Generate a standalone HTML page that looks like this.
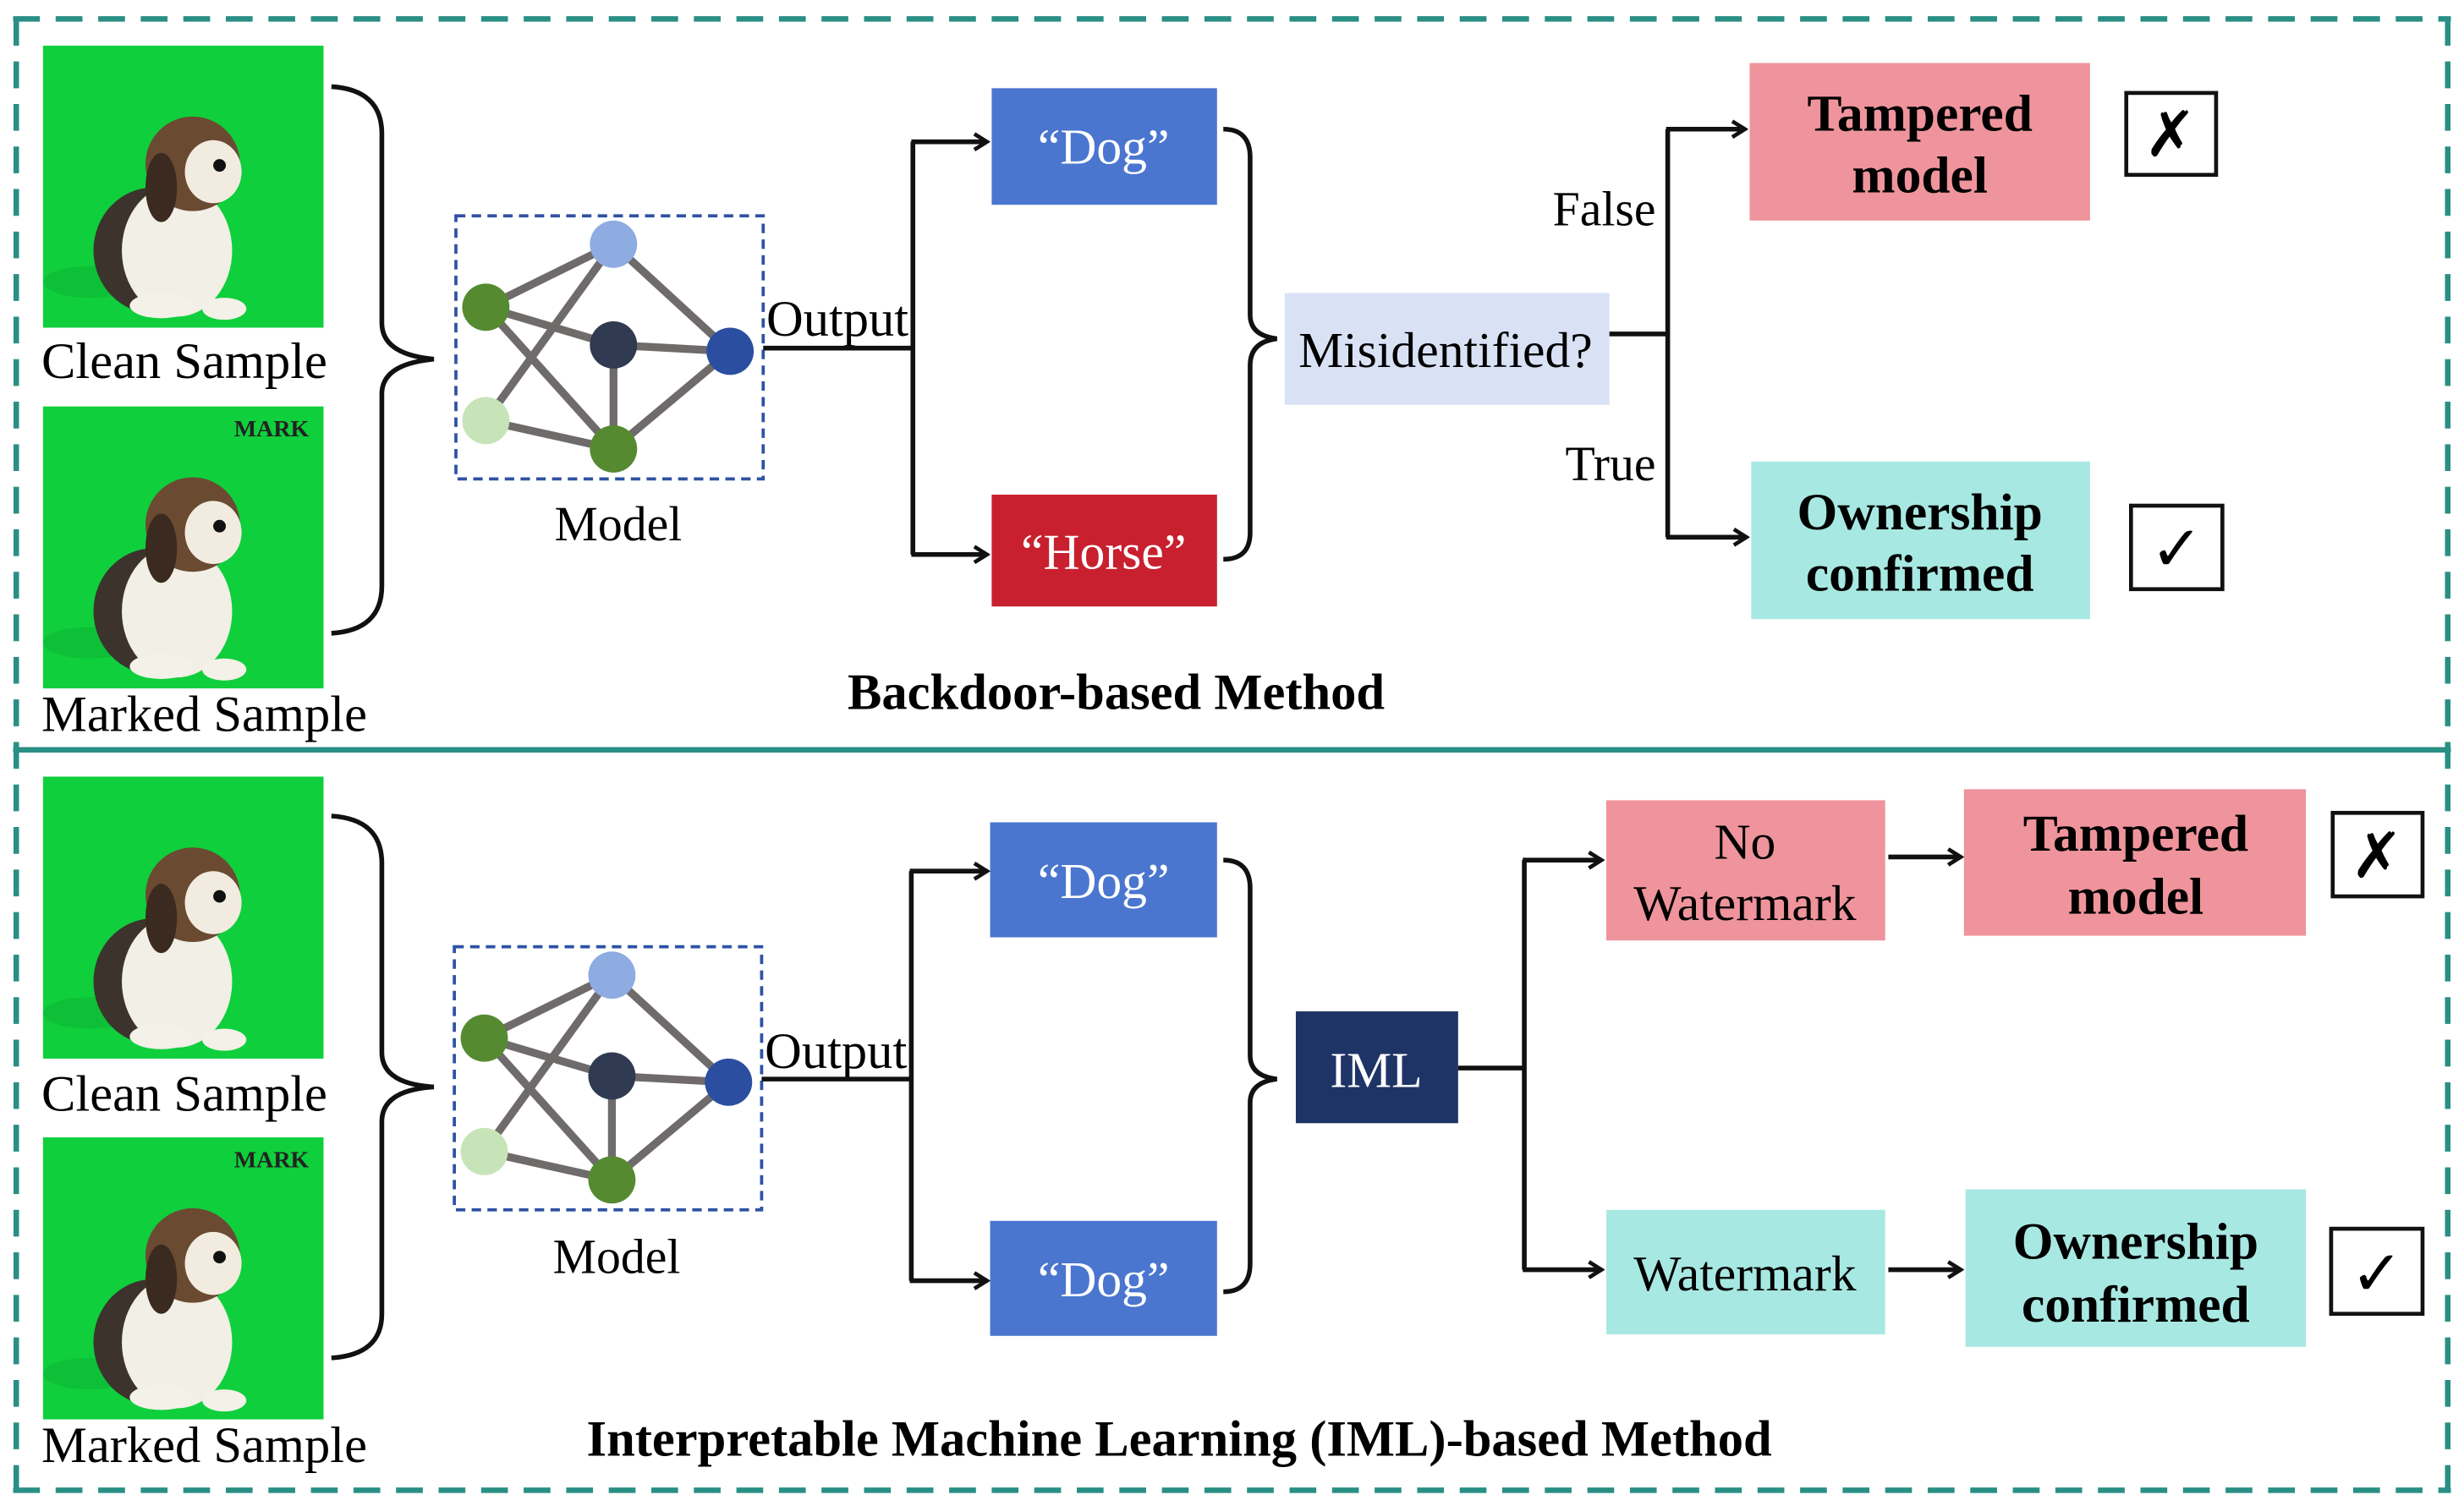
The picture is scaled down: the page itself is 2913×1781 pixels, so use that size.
<!DOCTYPE html>
<html><head><meta charset="utf-8"><style>
html,body{margin:0;padding:0;background:#fff;}
svg{display:block;}
text{font-family:"Liberation Serif",serif;}
</style></head><body>
<svg width="2913" height="1781" viewBox="0 0 1563 956" xmlns="http://www.w3.org/2000/svg">
<defs>
<marker id="ar" markerWidth="12" markerHeight="12" refX="10" refY="6" orient="auto" markerUnits="userSpaceOnUse">
<path d="M2,1 L10,6 L2,11" fill="none" stroke="#111" stroke-width="2.5"/>
</marker>
<g id="dog">
<rect x="0" y="0" width="178" height="179" fill="#0fcf3c"/>
<ellipse cx="30" cy="150" rx="30" ry="10" fill="#0bb534" opacity="0.6"/>
<ellipse cx="70" cy="130" rx="38" ry="40" fill="#3b332c"/>
<ellipse cx="85" cy="130" rx="35" ry="42" fill="#f1efe6"/>
<ellipse cx="95" cy="75" rx="30" ry="30" fill="#6b4a32"/>
<ellipse cx="108" cy="80" rx="18" ry="20" fill="#f2ece0"/>
<ellipse cx="75" cy="90" rx="10" ry="22" fill="#3a2a1f"/>
<circle cx="112" cy="76" r="4" fill="#111"/>
<ellipse cx="75" cy="165" rx="20" ry="8" fill="#f3f1e8"/>
<ellipse cx="115" cy="167" rx="14" ry="7" fill="#f3f1e8"/>
</g>
<g id="net">
<g stroke="#6f6b6b" stroke-width="5">
<line x1="19" y1="58" x2="100" y2="18"/>
<line x1="19" y1="58" x2="100" y2="82"/>
<line x1="19" y1="58" x2="100" y2="148"/>
<line x1="100" y1="18" x2="19" y2="130"/>
<line x1="100" y1="18" x2="174" y2="86"/>
<line x1="100" y1="82" x2="174" y2="86"/>
<line x1="100" y1="82" x2="100" y2="148"/>
<line x1="19" y1="130" x2="100" y2="148"/>
<line x1="174" y1="86" x2="100" y2="148"/>
</g>
<circle cx="100" cy="18" r="15" fill="#8eabe2"/>
<circle cx="19" cy="58" r="15" fill="#568a31"/>
<circle cx="100" cy="82" r="15" fill="#303a50"/>
<circle cx="174" cy="86" r="15" fill="#2b4ea0"/>
<circle cx="19" cy="130" r="15" fill="#c7e4b8"/>
<circle cx="100" cy="148" r="15" fill="#568a31"/>
</g>
</defs>

<g fill="none" stroke="#2a8f85" stroke-width="3.5">
<line x1="8" y1="12" x2="1555" y2="12" stroke-dasharray="17,10"/>
<line x1="10" y1="12" x2="10" y2="946" stroke-dasharray="17,10"/>
<line x1="1553" y1="12" x2="1553" y2="946" stroke-dasharray="17,10"/>
<line x1="8" y1="946" x2="1555" y2="946" stroke-dasharray="17,10"/>
<line x1="8" y1="476" x2="1555" y2="476"/>
</g>

<!-- Section 1 -->
<use href="#dog" x="27" y="29"/>
<use href="#dog" x="27" y="258"/>
<text x="172" y="277" font-size="15" font-weight="bold" text-anchor="middle" fill="#222">MARK</text>
<text x="26" y="240" font-size="32.5">Clean Sample</text>
<text x="26" y="464" font-size="32.5">Marked Sample</text>
<path d="M210,55 Q242,57 242,85 L242,205 Q242,225 275,228 Q242,231 242,250 L242,372 Q242,400 210,402" fill="none" stroke="#111" stroke-width="3"/>
<rect x="289" y="137" width="195" height="167" fill="none" stroke="#2e52a3" stroke-width="2" stroke-dasharray="6,4"/>
<use href="#net" x="289" y="137"/>
<text x="392" y="343" font-size="31" text-anchor="middle">Model</text>
<text x="486" y="213" font-size="32.5">Output</text>
<g fill="none" stroke="#111" stroke-width="3">
<line x1="484" y1="221" x2="579" y2="221"/>
<line x1="579" y1="90" x2="579" y2="352"/>
<line x1="578" y1="90" x2="626" y2="90" marker-end="url(#ar)"/>
<line x1="578" y1="352" x2="626" y2="352" marker-end="url(#ar)"/>
</g>
<rect x="629" y="56" width="143" height="74" fill="#4a76cf"/>
<text x="700" y="104" font-size="32" fill="#fff" text-anchor="middle">“Dog”</text>
<rect x="629" y="314" width="143" height="71" fill="#c8202f"/>
<text x="700" y="361" font-size="32" fill="#fff" text-anchor="middle">“Horse”</text>
<path d="M776,82 Q793,82 793,100 L793,200 Q793,213 810,215 Q793,217 793,232 L793,338 Q793,355 776,355" fill="none" stroke="#111" stroke-width="3"/>
<rect x="815" y="186" width="206" height="71" fill="#d9e2f5"/>
<text x="917" y="233" font-size="32" text-anchor="middle">Misidentified?</text>
<g fill="none" stroke="#111" stroke-width="3">
<line x1="1021" y1="212" x2="1058" y2="212"/>
<line x1="1058" y1="82" x2="1058" y2="341"/>
<line x1="1057" y1="82" x2="1107" y2="82" marker-end="url(#ar)"/>
<line x1="1057" y1="341" x2="1108" y2="341" marker-end="url(#ar)"/>
</g>
<text x="985" y="143" font-size="31">False</text>
<text x="993" y="305" font-size="31">True</text>
<rect x="1110" y="40" width="216" height="100" fill="#ef949c"/>
<text x="1218" y="83" font-size="33" font-weight="bold" text-anchor="middle">Tampered</text>
<text x="1218" y="122" font-size="33" font-weight="bold" text-anchor="middle">model</text>
<rect x="1111" y="293" width="215" height="100" fill="#a8e8e2"/>
<text x="1218" y="336" font-size="33" font-weight="bold" text-anchor="middle">Ownership</text>
<text x="1218" y="375" font-size="33" font-weight="bold" text-anchor="middle">confirmed</text>
<rect x="1349" y="59" width="57" height="52" fill="#fff" stroke="#111" stroke-width="2.5"/>
<text x="1377" y="99" font-size="40" text-anchor="middle" font-family="DejaVu Sans">✗</text>
<rect x="1352" y="321" width="58" height="53" fill="#fff" stroke="#111" stroke-width="2.5"/>
<text x="1381" y="362" font-size="40" text-anchor="middle" font-family="DejaVu Sans">✓</text>
<text x="708" y="450" font-size="32.5" font-weight="bold" text-anchor="middle">Backdoor-based Method</text>

<!-- Section 2 -->
<use href="#dog" x="27" y="493"/>
<use href="#dog" x="27" y="722"/>
<text x="172" y="741" font-size="15" font-weight="bold" text-anchor="middle" fill="#222">MARK</text>
<text x="26" y="705" font-size="32.5">Clean Sample</text>
<text x="26" y="928" font-size="32.5">Marked Sample</text>
<path d="M210,518 Q242,520 242,548 L242,668 Q242,688 275,690 Q242,692 242,712 L242,834 Q242,860 210,862" fill="none" stroke="#111" stroke-width="3"/>
<rect x="288" y="601" width="195" height="167" fill="none" stroke="#2e52a3" stroke-width="2" stroke-dasharray="6,4"/>
<use href="#net" x="288" y="601"/>
<text x="391" y="808" font-size="31" text-anchor="middle">Model</text>
<text x="485" y="678" font-size="32.5">Output</text>
<g fill="none" stroke="#111" stroke-width="3">
<line x1="483" y1="685" x2="578" y2="685"/>
<line x1="578" y1="553" x2="578" y2="813"/>
<line x1="577" y1="553" x2="626" y2="553" marker-end="url(#ar)"/>
<line x1="577" y1="813" x2="626" y2="813" marker-end="url(#ar)"/>
</g>
<rect x="628" y="522" width="144" height="73" fill="#4a76cf"/>
<text x="700" y="570" font-size="32" fill="#fff" text-anchor="middle">“Dog”</text>
<rect x="628" y="775" width="144" height="73" fill="#4a76cf"/>
<text x="700" y="823" font-size="32" fill="#fff" text-anchor="middle">“Dog”</text>
<path d="M776,546 Q793,546 793,564 L793,670 Q793,683 810,685 Q793,687 793,700 L793,802 Q793,820 776,820" fill="none" stroke="#111" stroke-width="3"/>
<rect x="822" y="642" width="103" height="71" fill="#1f3466"/>
<text x="873" y="690" font-size="32" fill="#fff" text-anchor="middle">IML</text>
<g fill="none" stroke="#111" stroke-width="3">
<line x1="925" y1="678" x2="967" y2="678"/>
<line x1="967" y1="546" x2="967" y2="806"/>
<line x1="966" y1="546" x2="1016" y2="546" marker-end="url(#ar)"/>
<line x1="966" y1="806" x2="1016" y2="806" marker-end="url(#ar)"/>
<line x1="1198" y1="544" x2="1244" y2="544" marker-end="url(#ar)"/>
<line x1="1198" y1="806" x2="1244" y2="806" marker-end="url(#ar)"/>
</g>
<rect x="1019" y="508" width="177" height="89" fill="#ef949c"/>
<text x="1107" y="545" font-size="32" text-anchor="middle">No</text>
<text x="1107" y="584" font-size="32" text-anchor="middle">Watermark</text>
<rect x="1019" y="768" width="177" height="79" fill="#a8e8e2"/>
<text x="1107" y="819" font-size="32" text-anchor="middle">Watermark</text>
<rect x="1246" y="501" width="217" height="93" fill="#ef949c"/>
<text x="1355" y="540" font-size="33" font-weight="bold" text-anchor="middle">Tampered</text>
<text x="1355" y="580" font-size="33" font-weight="bold" text-anchor="middle">model</text>
<rect x="1247" y="755" width="216" height="100" fill="#a8e8e2"/>
<text x="1355" y="799" font-size="33" font-weight="bold" text-anchor="middle">Ownership</text>
<text x="1355" y="839" font-size="33" font-weight="bold" text-anchor="middle">confirmed</text>
<rect x="1480" y="516" width="57" height="53" fill="#fff" stroke="#111" stroke-width="2.5"/>
<text x="1508" y="557" font-size="40" text-anchor="middle" font-family="DejaVu Sans">✗</text>
<rect x="1479" y="780" width="58" height="54" fill="#fff" stroke="#111" stroke-width="2.5"/>
<text x="1508" y="822" font-size="40" text-anchor="middle" font-family="DejaVu Sans">✓</text>
<text x="748" y="924" font-size="32.5" font-weight="bold" text-anchor="middle">Interpretable Machine Learning (IML)-based Method</text>
</svg>
</body></html>
